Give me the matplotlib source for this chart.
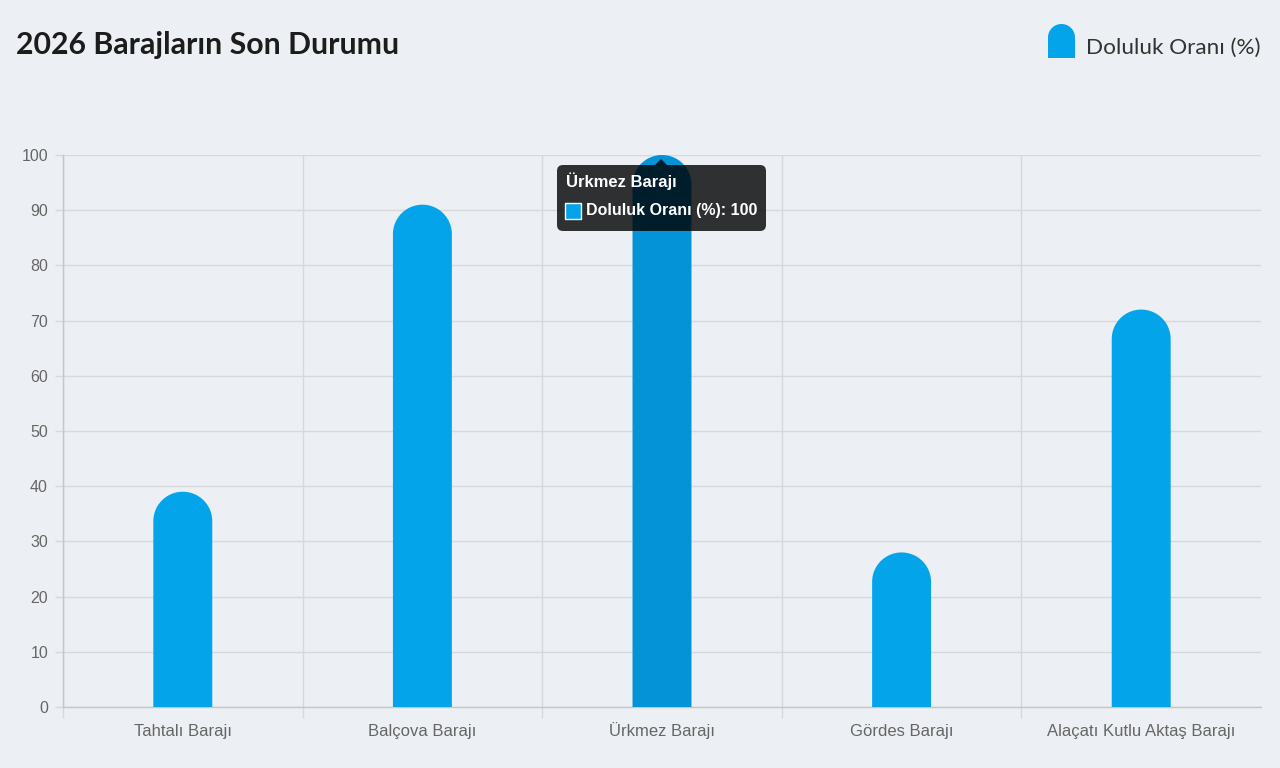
import matplotlib
matplotlib.use("Agg")
import matplotlib.pyplot as plt
import numpy as np
from matplotlib.patches import Polygon, FancyBboxPatch, Rectangle
from matplotlib.transforms import IdentityTransform

# ---------------- data ----------------
categories = ["Tahtalı Barajı", "Balçova Barajı", "Ürkmez Barajı",
              "Gördes Barajı", "Alaçatı Kutlu Aktaş Barajı"]
values = [39, 91, 100, 28, 72]
y_ticks = list(range(0, 101, 10))
series_label = "Doluluk Oranı (%)"
chart_title = "2026 Barajların Son Durumu"
highlight_index = 2

# ---------------- style ----------------
W, H = 1280, 768
BG = "#eceff3"
BAR = "#03a4ea"
BAR_HOVER = "#0393d6"
GRID = "#d6d8dc"
AXIS = "#c4c6ca"
TICK_TXT = "#666666"
TXT_FONT = ["Liberation Sans", "DejaVu Sans"]
TITLE_FONT = ["Lato", "DejaVu Sans"]

fig = plt.figure(figsize=(W / 100, H / 100), dpi=100, facecolor=BG)
ax = fig.add_axes([63 / W, (H - 707) / H, (1261 - 63) / W, (707 - 155) / H])
ax.set_facecolor(BG)
n = len(categories)
ax.set_xlim(-0.5, n - 0.5)
ax.set_ylim(0, 100)

bbox = ax.get_window_extent()
px_per_y = bbox.height / 100.0
px_per_x = bbox.width / n


def rounded_top(x0, x1, y0, y1, rx, ry, npts=48):
    xc = (x0 + x1) / 2
    t = np.linspace(0, np.pi, npts)
    cap = np.column_stack([xc + rx * np.cos(t), (y1 - ry) + ry * np.sin(t)])
    return np.vstack([[x1, y0], cap, [x0, y0]])


bar_w = 0.246
x = np.arange(n)
colors = [BAR_HOVER if i == highlight_index else BAR for i in range(n)]
bars = ax.bar(x, values, width=bar_w, color=colors, linewidth=0, zorder=3)
for rect, c in zip(bars, colors):
    x0, w, h = rect.get_x(), rect.get_width(), rect.get_height()
    rx = w / 2
    ry = rx * px_per_x / px_per_y
    rect.set_visible(False)
    ax.add_patch(Polygon(rounded_top(x0, x0 + w, 0, h, rx, ry), closed=True,
                         facecolor=c, linewidth=0, zorder=3))

# grid & ticks
ax.set_yticks(y_ticks)
ax.set_xticks(x)
ax.set_xticklabels(categories)
ax.set_xticks(np.arange(-0.5, n - 1, 1.0), minor=True)
ax.grid(axis="y", color=GRID, linewidth=1, zorder=0)
ax.grid(axis="x", which="minor", color=GRID, linewidth=1, zorder=0)
ax.set_axisbelow(True)
ax.tick_params(axis="y", length=5.8, width=1, color=GRID, labelcolor=TICK_TXT,
               labelsize=11.5, pad=5)
ax.tick_params(axis="x", which="major", length=0, labelcolor=TICK_TXT,
               labelsize=12, pad=21)
ax.tick_params(axis="x", which="minor", length=8, width=1, color=GRID)
for lab in ax.get_yticklabels():
    lab.set_family(TXT_FONT)
for lab in ax.get_xticklabels():
    lab.set_family(TXT_FONT)
    lab.set_va("baseline")
for s in ["top", "right"]:
    ax.spines[s].set_visible(False)
for s in ["left", "bottom"]:
    ax.spines[s].set_color(AXIS)
    ax.spines[s].set_linewidth(1)

# ---------------- title ----------------
fig.text(16 / W, 1 - 45 / H, chart_title, fontsize=21.8, fontweight="bold",
         family=TITLE_FONT, color="#1c1c1c", va="center", ha="left")

# ---------------- legend (rounded-top marker) ----------------
ident = IdentityTransform()
lx0, lx1 = 1048, 1075
ly0, ly1 = H - 58, H - 24
r = (lx1 - lx0) / 2
fig.add_artist(Polygon(rounded_top(lx0, lx1, ly0, ly1, r, r),
                       closed=True, facecolor=BAR, linewidth=0, transform=ident))
fig.text(1086 / W, 1 - 48 / H, series_label, fontsize=16.2, family=TITLE_FONT,
         color="#333333", va="center", ha="left")

# ---------------- tooltip ----------------
tip = ax.transData.transform((x[highlight_index], values[highlight_index]))
tip_x, tip_y = tip[0] - 1, tip[1] - 4
box_top = tip_y - 6
box_left = tip_x - 104
box_w, box_h = 209, 66
tooltip_bg = (0, 0, 0, 0.8)
fig.add_artist(FancyBboxPatch((box_left, box_top - box_h), box_w, box_h,
                              boxstyle="round,pad=0,rounding_size=6",
                              facecolor=tooltip_bg, linewidth=0,
                              transform=ident, zorder=10))
fig.add_artist(Polygon([[tip_x - 6, box_top], [tip_x + 6, box_top], [tip_x, tip_y]],
                       closed=True, facecolor=tooltip_bg, linewidth=0,
                       transform=ident, zorder=10))
fig.text(box_left + 9, box_top - 16, categories[highlight_index], transform=ident,
         fontsize=12, fontweight="bold", family=TXT_FONT, color="white",
         va="center", ha="left", zorder=11)
fig.add_artist(Rectangle((box_left + 8, box_top - 54), 16, 16, facecolor=BAR,
                         edgecolor="white", linewidth=1, transform=ident, zorder=11))
fig.text(box_left + 29, box_top - 46,
         f"{series_label}: {values[highlight_index]}", transform=ident,
         fontsize=11.5, fontweight="bold", family=TXT_FONT, color="white",
         va="center", ha="left", zorder=11)

fig.savefig("out.png", dpi=100, facecolor=BG)
